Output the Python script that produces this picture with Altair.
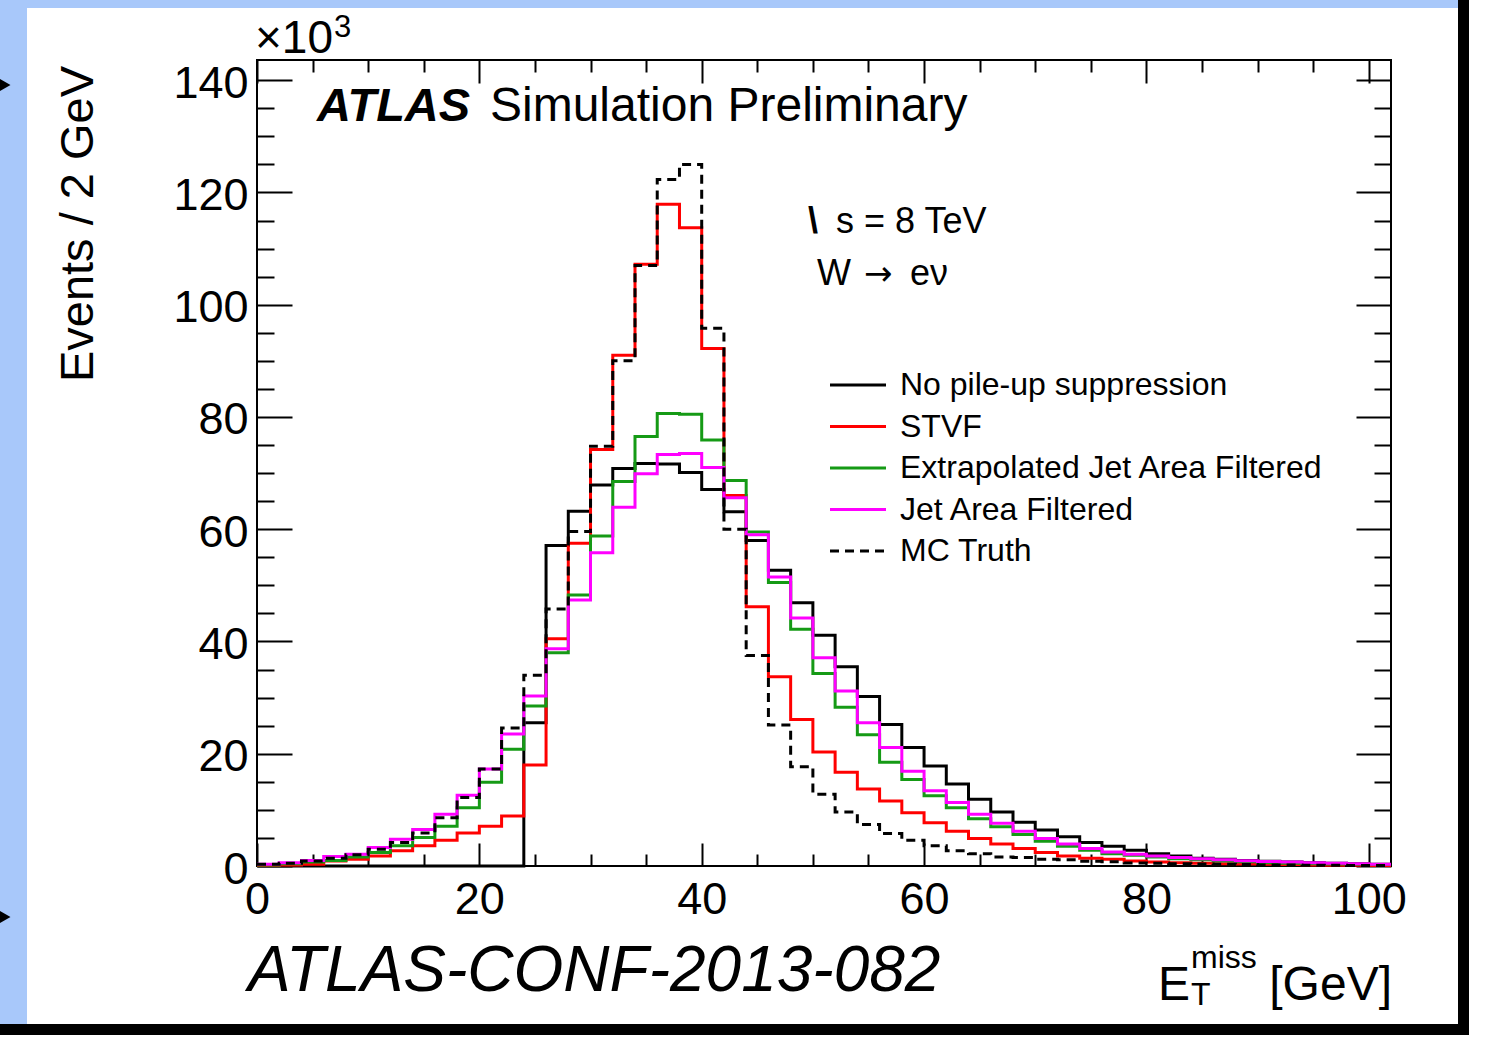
import altair as alt
import pandas as pd

FONT = "Liberation Sans"

# ---------------- data ----------------
bin_edges = list(range(0, 104, 2))  # 0 .. 102 GeV, 2 GeV bins

series_names = [
    "No pile-up suppression",
    "STVF",
    "Extrapolated Jet Area Filtered",
    "Jet Area Filtered",
    "MC Truth",
]
series_colors = ["#000000", "#ff0000", "#159a15", "#ff00ff", "#000000"]
series_dash = [[1, 0], [1, 0], [1, 0], [1, 0], [9, 6]]

no_pileup = [0, 0, 0, 0, 0, 0, 0, 0, 0, 0, 0, 0,
             25.5, 57.1, 63.2, 67.9, 70.8, 71.7, 71.6, 70.1, 67.1, 63.1, 58.0, 52.7,
             46.9, 41.1, 35.5, 30.2, 25.2, 21.1, 17.8, 14.6, 11.9, 9.6, 7.8, 6.4,
             5.2, 4.2, 3.5, 2.8, 2.2, 1.8, 1.4, 1.2, 1.0, 0.85, 0.7, 0.6,
             0.5, 0.4, 0.3]
stvf = [0.1, 0.2, 0.3, 0.9, 1.2, 1.8, 2.7, 3.6, 4.6, 5.9, 7.1, 8.9,
        18.0, 40.5, 57.5, 74.2, 91.0, 107.2, 117.9, 113.7, 92.2, 66.0, 46.2, 33.7,
        26.1, 20.3, 16.7, 13.7, 11.6, 9.5, 7.7, 6.2, 4.9, 3.9, 3.1, 2.4,
        1.8, 1.4, 1.2, 0.9, 0.7, 0.6, 0.5, 0.4, 0.35, 0.3, 0.25, 0.2,
        0.15, 0.12, 0.1]
extrap_jaf = [0.2, 0.4, 0.7, 1.0, 1.6, 2.4, 3.6, 5.1, 7.1, 10.4, 14.9, 20.8,
              28.5, 38.0, 48.3, 58.8, 68.5, 76.5, 80.6, 80.5, 75.9, 68.7, 59.5, 50.5,
              42.2, 34.3, 28.3, 23.4, 18.5, 15.4, 12.5, 10.4, 8.4, 7.0, 5.6, 4.4,
              3.5, 2.8, 2.2, 1.9, 1.6, 1.3, 1.1, 0.9, 0.75, 0.6, 0.5, 0.4,
              0.35, 0.3, 0.25]
jaf = [0.3, 0.6, 1.0, 1.7, 2.1, 3.3, 4.75, 6.5, 9.2, 12.6, 17.3, 23.5,
       30.3, 38.7, 47.4, 55.8, 63.9, 69.9, 73.3, 73.5, 71.0, 65.6, 59.0, 51.5,
       44.2, 37.1, 31.2, 25.5, 21.1, 16.9, 13.4, 11.3, 9.2, 7.6, 6.2, 4.9,
       3.9, 3.1, 2.5, 2.1, 1.8, 1.5, 1.3, 1.1, 0.95, 0.8, 0.7, 0.6,
       0.5, 0.4, 0.3]
mc_truth = [0.3, 0.5, 0.9, 1.4, 2.0, 3.0, 4.2, 5.9, 8.6, 12.2, 17.3, 24.6,
            34.0, 45.8, 59.6, 74.8, 90.0, 107.0, 122.3, 125.0, 95.8, 60.0, 37.5, 25.1,
            17.7, 12.8, 9.6, 7.4, 5.8, 4.6, 3.6, 2.7, 2.2, 1.6, 1.5, 1.2,
            1.1, 0.85, 0.75, 0.55, 0.5, 0.4, 0.35, 0.3, 0.25, 0.2, 0.2, 0.15,
            0.12, 0.1, 0.1]

x_label_values = [0, 20, 40, 60, 80, 100]
y_label_values = [0, 20, 40, 60, 80, 100, 120, 140]
x_tick_values = list(range(0, 101, 5))
y_tick_values = list(range(0, 141, 5))

# ---------------- table for the library ----------------
rows = []
for name, vals in zip(series_names, [no_pileup, stvf, extrap_jaf, jaf, mc_truth]):
    for i, v in enumerate(vals):
        rows.append({"series": name, "x": bin_edges[i], "y": v})
    rows.append({"series": name, "x": bin_edges[len(vals)], "y": vals[-1]})
df = pd.DataFrame(rows)
one = pd.DataFrame({"k": [0]})

# ---------------- layout ----------------
W, H = 1134, 806
PAD_L, PAD_T = 257, 60
X_MAX, Y_MAX = 102, 143.6

xscale = alt.Scale(domain=[0, X_MAX], nice=False, zero=False)
yscale = alt.Scale(domain=[0, Y_MAX], nice=False, zero=False)
cscale = alt.Scale(domain=series_names, range=series_colors)
dscale = alt.Scale(domain=series_names, range=series_dash)

label_x_axis = alt.Axis(orient="bottom", values=x_label_values, ticks=False, tickSize=0,
                        domain=False, grid=False, title=None, labelFontSize=45,
                        labelFont=FONT, labelColor="black", labelPadding=11,
                        labelFlush=False, labelOverlap=False)
label_y_axis = alt.Axis(orient="left", values=y_label_values, ticks=False, tickSize=0,
                        domain=False, grid=False, title=None, labelFontSize=45,
                        labelFont=FONT, labelColor="black", labelPadding=9,
                        labelOverlap=False, labelOffset=3)

def tick_axis(orient, values, major, minor, offset):
    return alt.Axis(orient=orient, values=values, labels=False, domain=False, grid=False,
                    title=None, ticks=True, tickColor="black", tickWidth=2,
                    tickSize={"condition": {"test": "datum.value % 20 === 0", "value": major},
                              "value": minor},
                    offset=offset)

legend = alt.Legend(orient="none", legendX=571.5, legendY=304.5, title=None,
                    symbolType="stroke", symbolSize=3136, symbolStrokeWidth=3,
                    labelFontSize=32, labelFont=FONT, labelColor="black",
                    labelOffset=12.5, clipHeight=41, padding=0, rowPadding=0.5,
                    labelLimit=0)

def hist_layer(name, xaxis, yaxis, leg):
    return alt.Chart(df).transform_filter(alt.datum.series == name).mark_line(
        interpolate="step-after", strokeWidth=3, strokeCap="butt"
    ).encode(
        x=alt.X("x:Q", scale=xscale, axis=xaxis),
        y=alt.Y("y:Q", scale=yscale, axis=yaxis),
        color=alt.Color("series:N", scale=cscale, legend=leg),
        strokeDash=alt.StrokeDash("series:N", scale=dscale, legend=leg),
    )

l_black = hist_layer(series_names[0], label_x_axis, label_y_axis, legend)
l_red = hist_layer(series_names[1], tick_axis("top", x_tick_values, 23, 12, -H),
                   tick_axis("right", y_tick_values, 35, 17, -W), None)
l_green = hist_layer(series_names[2], tick_axis("bottom", x_tick_values, 23, 12, -H),
                     tick_axis("left", y_tick_values, 35, 17, -W), None)
l_mag = hist_layer(series_names[3], None, None, None)
l_mc = hist_layer(series_names[4], None, None, None)

def txt(text, x, y, size, align="left", font=FONT, **kw):
    return alt.Chart(one).mark_text(text=text, fontSize=size, font=font, align=align,
                                    baseline="alphabetic", color="black", **kw).encode(
        x=alt.value(x - PAD_L), y=alt.value(y - PAD_T))

def box(x1, x2, y1, y2, color):
    return alt.Chart(one).mark_rect(color=color).encode(
        x=alt.value(x1 - PAD_L), x2=alt.value(x2 - PAD_L),
        y=alt.value(y1 - PAD_T), y2=alt.value(y2 - PAD_T))

BLUE = "#a8c8fa"
decor = [
    box(0, 27, 0, 1024, BLUE),
    box(0, 1458, 0, 8, BLUE),
    box(1458, 1469, 0, 1035, "#000000"),
    box(0, 1469, 1024, 1035, "#000000"),
    alt.Chart(one).mark_point(shape="triangle-right", filled=True, size=160,
                              color="black", opacity=1).encode(
        x=alt.value(5 - PAD_L), y=alt.value(85 - PAD_T)),
    alt.Chart(one).mark_point(shape="triangle-right", filled=True, size=160,
                              color="black", opacity=1).encode(
        x=alt.value(5 - PAD_L), y=alt.value(917 - PAD_T)),
]

texts = [
    txt("\u00d710", 255, 53, 46),
    txt("3", 334, 37, 31),
    txt("ATLAS", 317, 121, 47, fontWeight="bold", fontStyle="italic"),
    txt("Simulation Preliminary", 490, 121, 48),
    txt("\\", 808, 233, 36, fontWeight="bold"),
    txt("s = 8 TeV", 836, 233, 36),
    txt("W", 817, 285, 36),
    txt("\u2192", 864, 285, 34, font="DejaVu Sans"),
    txt("e\u03bd", 910, 285, 36),
    alt.Chart(one).mark_text(text="Events / 2 GeV", fontSize=47, font=FONT, angle=270,
                             align="right", baseline="alphabetic", color="black").encode(
        x=alt.value(93 - PAD_L), y=alt.value(66 - PAD_T)),
    txt("ATLAS-CONF-2013-082", 248, 991, 64, fontStyle="italic"),
    txt("E", 1158, 1000, 48),
    txt("miss", 1191, 968, 32),
    txt("T", 1191, 1005, 32),
    txt("[GeV]", 1392, 1000, 48, align="right"),
]

chart = alt.layer(
    *decor, l_black, l_red, l_green, l_mag, l_mc, *texts
).resolve_axis(
    x="independent", y="independent"
).properties(
    width=W, height=H,
    autosize=alt.AutoSizeParams(type="none"),
    padding={"left": PAD_L, "top": PAD_T, "right": 1487 - PAD_L - W, "bottom": 1037 - PAD_T - H},
    background="white",
).configure_view(
    stroke="black", strokeWidth=2, fill="white"
)

chart.save("out.html", embed_options={"renderer": "svg", "actions": False})
